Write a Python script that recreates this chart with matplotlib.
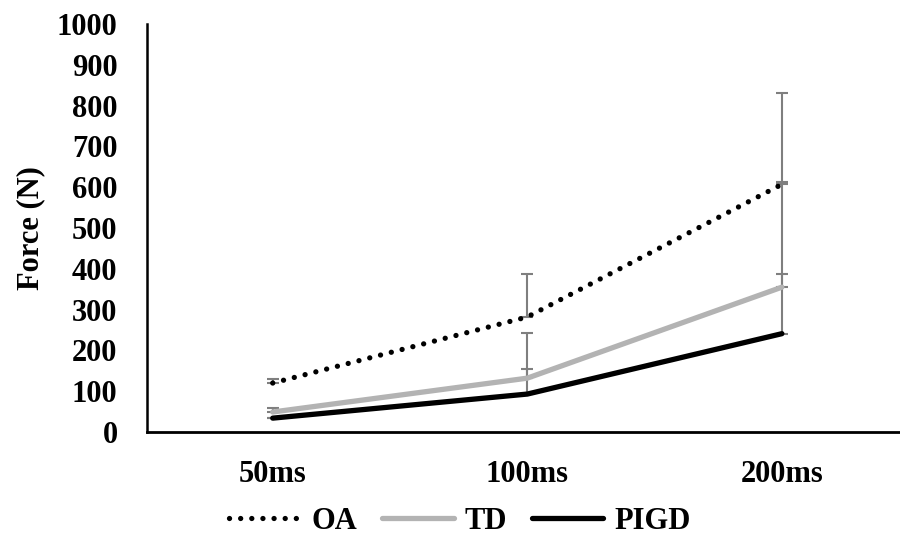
import numpy as np
import matplotlib
matplotlib.use("Agg")
import matplotlib.pyplot as plt

# data
categories = ["50ms", "100ms", "200ms"]
oa = [120, 282, 607]
td = [49, 132, 355]
pigd = [34, 93, 241]
oa_err = [10, 105, 225]
td_err = [10, 111, 258]
pigd_err = [0, 61, 147]

plt.rcParams['font.family'] = ['Liberation Serif', 'DejaVu Serif']
plt.rcParams['font.weight'] = 'bold'

fig = plt.figure(figsize=(9, 5.43), dpi=100)
ax = fig.add_axes([0.163, 0.2044, 0.837, 0.7514])

x = np.arange(len(categories))
err_col = '#7f7f7f'

for vals, errs in [(oa, oa_err), (td, td_err), (pigd, pigd_err)]:
    ax.errorbar(x, vals, yerr=[np.zeros(len(errs)), errs], fmt='none',
                ecolor=err_col, elinewidth=1.5, capsize=4, capthick=1.5, zorder=1)

ax.plot(x, oa, color='black', lw=3.8, linestyle=(0, (0.01, 2.1)),
        dash_capstyle='round', label='OA', zorder=3)
ax.plot(x, td, color='#b3b3b3', lw=3.8, solid_capstyle='round', label='TD', zorder=3)
ax.plot(x, pigd, color='black', lw=3.8, solid_capstyle='round', label='PIGD', zorder=3)

ax.set_xlim(-0.495, 2.464)
ax.set_ylim(0, 1000)
ax.set_yticks(np.arange(0, 1001, 100))
ax.set_xticks(x)
ax.set_xticklabels(categories)
ax.tick_params(axis='both', length=0, labelsize=22)
ax.tick_params(axis='y', pad=21)
ax.tick_params(axis='x', pad=20)
for lab in ax.get_xticklabels() + ax.get_yticklabels():
    lab.set_fontweight('bold')

ax.spines['top'].set_visible(False)
ax.spines['right'].set_visible(False)
ax.spines['left'].set_linewidth(1.8)
ax.spines['bottom'].set_linewidth(2)

ax.set_ylabel("Force (N)", fontsize=22, fontweight='bold', labelpad=8)

leg = fig.legend(loc='center', bbox_to_anchor=(0.511, 0.04), ncol=3, frameon=False,
                 prop={'size': 22, 'weight': 'bold'}, handlelength=2.35,
                 handletextpad=0.36, columnspacing=0.8)

fig.savefig("out.png", dpi=100)
